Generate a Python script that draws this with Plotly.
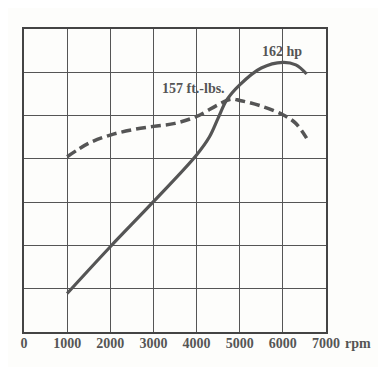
import plotly.graph_objects as go

rpm_hp = [1000, 2000, 3000, 4000, 4300, 4500, 4700, 5000, 5500, 6000, 6300, 6550]
hp = [0.89, 1.97, 3.01, 4.09, 4.51, 4.94, 5.36, 5.71, 6.10, 6.23, 6.17, 5.96]

rpm_tq = [1000, 1500, 2000, 2500, 3000, 3500, 4000, 4500, 4800, 5000, 5500, 6000, 6300, 6550]
torque = [4.05, 4.36, 4.55, 4.67, 4.75, 4.82, 4.98, 5.25, 5.38, 5.35, 5.22, 5.02, 4.82, 4.48]

tick_vals = [0, 1000, 2000, 3000, 4000, 5000, 6000, 7000]
tick_text = ["0", "1000", "2000", "3000", "4000", "5000", "6000", "7000"]

font = dict(family="Liberation Serif", size=14, color="#555555")

fig = go.Figure()
fig.add_trace(go.Scatter(x=rpm_tq, y=torque, mode="lines", line_shape="spline",
                         line=dict(color="#555555", width=3.5, dash="10px,5px")))
fig.add_trace(go.Scatter(x=rpm_hp, y=hp, mode="lines", line_shape="spline",
                         line=dict(color="#555555", width=3.2)))

fig.add_annotation(x=5980, y=6.48, text="<b>162 hp</b>", showarrow=False, font=font)
fig.add_annotation(x=3918, y=5.62, text="<b>157 ft.-lbs.</b>", showarrow=False, font=font)
fig.add_annotation(x=1, xref="paper", xanchor="left", xshift=17, y=0, yref="paper",
                   yanchor="top", yshift=-2, text="<b>rpm</b>", showarrow=False, font=font)

fig.update_layout(
    width=378, height=359,
    margin=dict(l=16, r=60, t=21, b=35),
    paper_bgcolor="#fdfdfb", plot_bgcolor="#fdfdfb",
    showlegend=False,
    xaxis=dict(range=[0, 7000], tickvals=tick_vals,
               ticktext=["<b>%s</b>" % t for t in tick_text],
               tickfont=font, showgrid=True, gridcolor="#555555", gridwidth=1,
               showline=True, linecolor="#444444", linewidth=2, mirror=True,
               zeroline=False, ticks="", ticklen=0, automargin=False,
               ticklabelstandoff=-3),
    yaxis=dict(range=[0, 7], dtick=1, showticklabels=False, showgrid=True,
               gridcolor="#555555", gridwidth=1, showline=True,
               linecolor="#444444", linewidth=2, mirror=True, zeroline=False,
               automargin=False),
)

fig.write_html("out.html")
